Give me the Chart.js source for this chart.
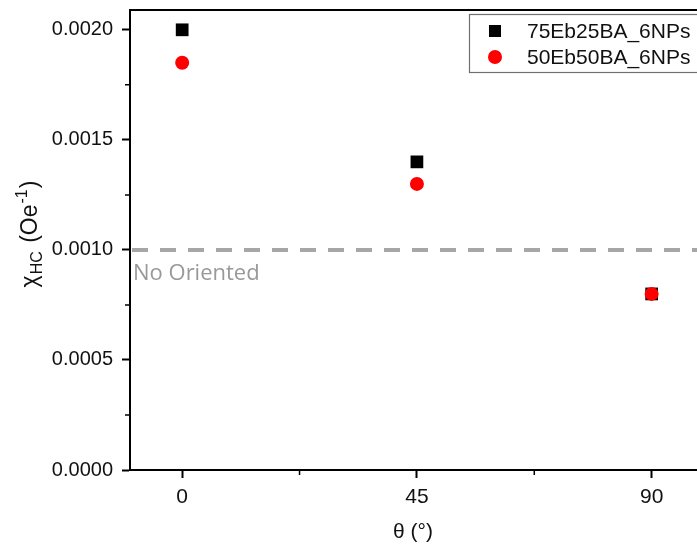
<!DOCTYPE html>
<html>
<head>
<meta charset="utf-8">
<script src="https://cdn.jsdelivr.net/npm/chart.js@4"></script>
<style>
  html, body { margin: 0; padding: 0; background: #fff; overflow: hidden; }
  #wrap { width: 697px; height: 551px; position: relative; overflow: hidden; }
</style>
</head>
<body>
<div id="wrap"><canvas id="c" width="705" height="551"></canvas></div>
<script>
// ---- data ----
const angles = [0, 45, 90];
const series75 = [0.0020, 0.0014, 0.0008];
const series50 = [0.00185, 0.0013, 0.0008];
const seriesNames = ['75Eb25BA_6NPs', '50Eb50BA_6NPs'];
const xTickValues = [0, 45, 90];
const xMinorTicks = [22.5, 67.5];
const yTickValues = [0, 0.0005, 0.0010, 0.0015, 0.0020];
const yMinorTicks = [0.00025, 0.00075, 0.00125, 0.00175];
const refValue = 0.0010;
const refLabel = 'No Oriented';

const FONT = '"Liberation Sans", Arial, sans-serif';

const decor = {
  id: 'decor',
  beforeDatasetsDraw(chart) {
    const ctx = chart.ctx, a = chart.chartArea;
    const ys = chart.scales.y;
    const yRef = ys.getPixelForValue(refValue);
    ctx.save();
    ctx.strokeStyle = '#a6a6a6';
    ctx.lineWidth = 4;
    ctx.setLineDash([16, 12]);
    ctx.beginPath();
    ctx.moveTo(a.left + 2, yRef);
    ctx.lineTo(a.right + 20, yRef);
    ctx.stroke();
    ctx.setLineDash([]);
    ctx.fillStyle = '#999999';
    ctx.font = '22px "Open Sans", sans-serif';
    ctx.textAlign = 'left';
    ctx.textBaseline = 'alphabetic';
    ctx.fillText(refLabel, a.left + 3, yRef + 30);
    ctx.restore();
  },
  afterDraw(chart) {
    const ctx = chart.ctx, a = chart.chartArea;
    const xs = chart.scales.x, ys = chart.scales.y;
    ctx.save();
    // top frame
    ctx.strokeStyle = '#000';
    ctx.lineWidth = 2;
    ctx.beginPath();
    ctx.moveTo(a.left - 1, a.top);
    ctx.lineTo(a.right + 10, a.top);
    ctx.stroke();
    // minor ticks
    ctx.lineWidth = 1.5;
    ctx.beginPath();
    xMinorTicks.forEach(v => {
      const px = xs.getPixelForValue(v);
      ctx.moveTo(px, a.bottom);
      ctx.lineTo(px, a.bottom + 5);
    });
    yMinorTicks.forEach(v => {
      const py = ys.getPixelForValue(v);
      ctx.moveTo(a.left, py);
      ctx.lineTo(a.left - 5, py);
    });
    ctx.stroke();

    // legend
    const lx = 469, ly = 14, lh = 58;
    ctx.fillStyle = '#fff';
    ctx.fillRect(lx, ly, 260, lh);
    ctx.strokeStyle = '#707070';
    ctx.lineWidth = 1.2;
    ctx.strokeRect(lx + 0.5, ly + 0.5, 260, lh);
    const rows = [
      {name: seriesNames[0], ds: chart.data.datasets[0], y: ly + 17},
      {name: seriesNames[1], ds: chart.data.datasets[1], y: ly + 43}
    ];
    rows.forEach(r => {
      ctx.fillStyle = r.ds.backgroundColor;
      if (r.ds.pointStyle === 'rect') {
        ctx.fillRect(lx + 20, r.y - 6, 12, 12);
      } else {
        ctx.beginPath();
        ctx.arc(lx + 26, r.y, 7, 0, Math.PI * 2);
        ctx.fill();
      }
      ctx.fillStyle = '#111';
      ctx.font = '21px ' + FONT;
      ctx.textAlign = 'left';
      ctx.textBaseline = 'middle';
      ctx.fillText(r.name, lx + 58, r.y + 1);
    });

    // y axis title with subscript/superscript
    const big = '23px ' + FONT, small = '16px ' + FONT;
    const parts = [
      {t: '\u03C7', f: big, dy: 0, gap: 1},
      {t: 'HC', f: small, dy: 5, gap: 2},
      {t: ' (Oe', f: big, dy: 0, gap: 1},
      {t: '-1', f: small, dy: -10, gap: 1},
      {t: ')', f: big, dy: 0, gap: 0}
    ];
    let total = 0;
    parts.forEach(p => { ctx.font = p.f; p.w = ctx.measureText(p.t).width + p.gap; total += p.w; });
    const cy = 234;
    ctx.translate(37, cy);
    ctx.rotate(-Math.PI / 2);
    ctx.fillStyle = '#111';
    ctx.textAlign = 'left';
    ctx.textBaseline = 'alphabetic';
    let x = -total / 2;
    parts.forEach(p => {
      ctx.font = p.f;
      ctx.fillText(p.t, x, p.dy);
      x += p.w;
    });
    ctx.restore();
  }
};

new Chart(document.getElementById('c'), {
  type: 'scatter',
  data: {
    datasets: [
      {
        label: seriesNames[0],
        data: angles.map((a, i) => ({x: a, y: series75[i]})),
        pointStyle: 'rect',
        pointRadius: 9,
        backgroundColor: '#000000',
        borderColor: '#000000',
        borderWidth: 0,
        order: 1
      },
      {
        label: seriesNames[1],
        data: angles.map((a, i) => ({x: a, y: series50[i]})),
        pointStyle: 'circle',
        pointRadius: 7,
        backgroundColor: '#ff0000',
        borderColor: '#ff0000',
        borderWidth: 0,
        order: 0
      }
    ]
  },
  options: {
    responsive: false,
    animation: false,
    events: [],
    layout: { padding: { top: 10, right: 0, left: 0, bottom: 0 } },
    plugins: { legend: { display: false }, tooltip: { enabled: false } },
    scales: {
      x: {
        type: 'linear',
        min: -10,
        max: 98.5,
        afterBuildTicks: s => { s.ticks = xTickValues.map(v => ({value: v})); },
        afterFit: s => { s.height = 81; s.paddingLeft = 0; s.paddingRight = 0; },
        ticks: {
          color: '#111',
          font: { family: FONT, size: 21 },
          padding: 7,
          maxRotation: 0,
          callback: v => String(v)
        },
        grid: { drawOnChartArea: false, drawTicks: true, tickLength: 8, tickColor: '#000', tickWidth: 2 },
        border: { display: true, color: '#000', width: 2 },
        title: {
          display: true,
          text: '\u03B8 (\u00B0)',
          color: '#111',
          font: { family: FONT, size: 21 },
          padding: { top: 0, bottom: 6 }
        }
      },
      y: {
        type: 'linear',
        min: 0,
        max: 0.00209,
        afterBuildTicks: s => { s.ticks = yTickValues.map(v => ({value: v})); },
        afterFit: s => { s.width = 130; s.paddingTop = 0; s.paddingBottom = 0; },
        ticks: {
          color: '#111',
          font: { family: FONT, size: 20 },
          padding: 9,
          callback: v => v.toFixed(4)
        },
        grid: { drawOnChartArea: false, drawTicks: true, tickLength: 8, tickColor: '#000', tickWidth: 2 },
        border: { display: true, color: '#000', width: 2 }
      }
    }
  },
  plugins: [decor]
});
</script>
</body>
</html>
